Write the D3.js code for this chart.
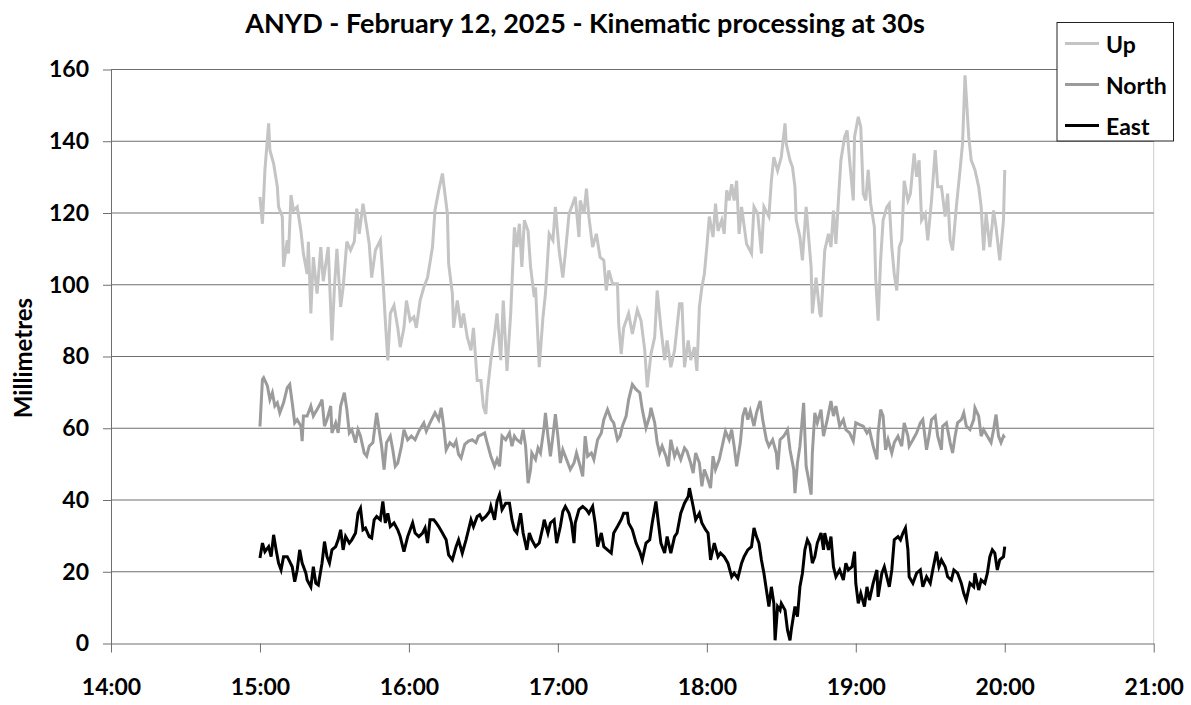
<!DOCTYPE html>
<html>
<head>
<meta charset="utf-8">
<script src="https://cdn.jsdelivr.net/npm/d3@7"></script>
<style>
  body { margin: 0; background: #fff; }
  svg { display: block; font-family: Lato, "Open Sans", sans-serif; font-weight: bold; }
</style>
</head>
<body>
<svg width="1191" height="705"></svg>
<script>
// chart text
const title = 'ANYD - February 12, 2025 - Kinematic processing at 30s';
const yLabel = 'Millimetres';
const seriesNames = ['Up', 'North', 'East'];
const yTicks = [0, 20, 40, 60, 80, 100, 120, 140, 160];
const xTickHours = [14, 15, 16, 17, 18, 19, 20, 21];

// [minutes after 15:00, millimetres]
const upData = [
  [0,124.5],[1,117],[1.5,124.5],[2,132],[3.5,145],[4,137.5],[5.5,133.8],[7,127.3],[7.5,121.7],[9,119],
  [9.5,105],[11,112.4],[11.5,108.7],[12.5,125],[13.5,120.7],[15,121.7],[16.5,115],[17.5,108.7],[19,103],[19.5,112],
  [20.5,92],[21.5,107.7],[23,97.5],[24.5,110.5],[25.5,101],[27.5,110.5],[29,84.5],[30,99.3],[31,110],[32.5,93.8],
  [33.5,99.3],[35,112],[36.5,109.6],[38,112],[39,121.2],[40,114.2],[41.5,122.6],[43,116],[44,111.4],[45,102],
  [46.5,109.6],[48.5,112.4],[49.5,102],[50.5,90],[51.5,78.9],[52.5,92],[54,94.2],[55.5,88],[56.5,82.6],[58,88],
  [59,95.6],[60.5,90],[62,91],[63,88],[64.5,95.6],[66,99.3],[67.5,102],[69.5,110.5],[70.5,120.7],[72,126.3],
  [73.5,131],[75.5,119.8],[76,105.9],[77.5,97.5],[78,88],[79.5,95.6],[81,88],[82,92],[83.5,85.4],[85,81.7],
  [86,88],[87.5,73.3],[89,73.3],[90,66],[91,64],[91.5,69.6],[93,79],[94.5,86.3],[95.5,92],[97,79],
  [98,95.6],[99.5,76],[101,92],[102.5,116],[103.5,110.5],[104.5,117],[105.5,105],[106.5,118],[108,115],[109,105],
  [110.5,96.6],[111,99.3],[112.5,77],[114,91],[115,97.5],[116.5,114.2],[118,112.4],[119,121.7],[120.5,109.6],[122,102],
  [123,108.7],[124.5,119.8],[126,122.6],[127,124.5],[128.5,113.3],[129,123.5],[130.5,119.8],[131.5,126.8],[132.5,118.9],[134,110.5],
  [135.5,114.2],[137,107.7],[138.5,106.8],[139.5,98.4],[140.5,104],[142,100.3],[144,100.3],[144.5,89.1],[145.5,80.7],[146.5,88],
  [148.5,92],[150,86.3],[152,93],[153.5,90],[155,81.7],[156,71.4],[157.5,80.7],[159,85.4],[160,98.4],[161.5,88],
  [163,79],[164,84.5],[165.5,77],[167,81.7],[169,94.7],[170,94.7],[171,77],[172.5,84.5],[173.5,79],[175,82.6],
  [176,76],[177,93.8],[178,99.3],[179,103],[180,110.5],[181,119],[182.5,113.3],[183.5,122.6],[184.5,115],[186,118],
  [187,114.2],[188,126.3],[189,123.5],[190,128],[191,123.5],[192,129],[193,114.2],[194,121.7],[196,111.4],[198,108.7],
  [199,121.7],[200.5,119.8],[202,108.7],[203,121.7],[205,119],[206,129],[207,135.6],[208.5,131.8],[210,135.6],[211.5,145],
  [212,139.3],[213.5,134.7],[214.5,132.8],[215.5,127.3],[216,118],[217.5,113.3],[218.5,106.8],[220,121.7],[221,113.3],[222,105],
  [222.5,92],[224,102],[225.5,92],[226,91],[227.5,109.6],[229,114.2],[230,110.5],[231,120.7],[232,111.4],[233,123.5],
  [234,134.7],[235.5,141.2],[236.5,143],[237.5,134.7],[239,123.5],[239.5,141.2],[241,146.8],[242,144],[243,125.4],[244,123.5],
  [245,132],[246,122.6],[247.5,116],[248,102],[249,90],[250,106.8],[251,118],[252.5,121.7],[253.5,122.6],[254.5,110.5],
  [255.5,103],[256.5,98.4],[257.5,110.5],[258.5,112.4],[259.5,129],[261,123.5],[262,125.4],[263.5,136.6],[264.5,130.1],[265.5,134.7],
  [266.5,118],[268,119.8],[269,112.4],[270.5,123.5],[272,137.5],[273,127.3],[274.5,127.3],[276,119],[277,125.4],[278,112.4],
  [279,109.6],[280.5,121.7],[282,132],[283,139.3],[284,158.4],[285.5,141.2],[286.5,134.7],[288,132],[289.5,127.3],[290.5,121.7],
  [291.5,109.6],[292.5,119.8],[294,110.5],[295.5,120.7],[296.5,116],[298,106.8],[299.5,118],[300,132]
];

const northData = [
  [0,60.5],[1,73.6],[1.5,74.1],[3,71.8],[4,68],[5,69.9],[6,66.2],[7,67.1],[8,64.3],[9.5,67.1],
  [11,71.3],[12,72.2],[13,67.1],[14,61.5],[15,62.4],[16.5,60.6],[17,56.4],[17.5,63.4],[19,63.4],[20.5,66.2],
  [21.5,63.4],[23,65.2],[24.5,67.1],[25,68],[26,60.6],[27,62.4],[28.5,66.2],[29,58.7],[30.5,61.5],[31.5,58.7],
  [32.5,66.2],[34,69.9],[35,65.2],[36,58.7],[37,59.6],[38.5,56],[39.5,59.6],[40.5,57.8],[42,53.1],[43,52.2],
  [44,55],[45.5,56],[47,64.3],[48,59.6],[49,55],[50,48.5],[51,56],[52.5,57.8],[53.5,54],[54.5,49.4],
  [55.5,50.3],[57,55],[58,59.6],[59.5,56.8],[61,57.8],[62.5,56.8],[64,59.2],[66,61.5],[67,59.2],[68.5,61.5],
  [70.5,64.3],[72,62.4],[73,65.7],[74,60.6],[75,54],[76.5,56],[78,55],[79,56.4],[80,52.7],[81,51.7],
  [82.5,55.5],[84,56.4],[85.5,56.8],[87,56],[88,57.8],[89.5,58.3],[90.5,58.7],[91.5,56],[93,52.2],[94.5,49.4],
  [95.5,51.3],[96.5,49.4],[97.5,57.8],[99,56.8],[100.5,58.7],[101.5,55],[102.5,57.8],[103.5,56.8],[105,56],[106,59.6],
  [107,55],[108,44.7],[109,48.5],[109.5,53.1],[111,51.3],[112,54.5],[113,53.1],[114.5,60.6],[115,64.3],[116,57.8],
  [117,52.2],[118,57.8],[119,63.9],[120,57.8],[121,50.3],[122,54],[123.5,51.3],[125,48.5],[126.5,50.3],[127.5,53.1],
  [129,49.4],[130,46.6],[131,57.8],[132,52.2],[133.5,53.1],[134.5,51.3],[136,56.8],[137.5,58.7],[138.5,62.4],[140,65.2],
  [141.5,62.4],[142.5,61.5],[144,56.8],[145,57.8],[146,60.6],[147.5,63.4],[148.5,68],[150,72.2],[151.5,70.8],[153,69.9],
  [154,65.2],[155.5,60.1],[157,63.4],[157.5,65.7],[159,61.5],[160,56],[161,53.1],[162,55],[163.5,52.2],[164.5,49.4],
  [165.5,56.8],[167,52.2],[168,54],[169.5,51.3],[171,54.5],[172,53.6],[173.5,50.3],[174.5,47.5],[175.5,53.1],[177,50.3],
  [178,43.8],[179,48.5],[180,46.6],[181.5,43.3],[182.5,52.2],[183.5,48.5],[185,51.3],[186.5,56],[187.5,59.2],[189,56.8],
  [190,59.6],[191,55],[192,49.4],[193.5,56],[194.5,63.4],[195.5,65.7],[196.5,62.4],[197.5,64.8],[199,60.6],[200,64.3],
  [201.5,67.6],[202.5,62.4],[204,56.8],[205,55],[206.5,56.8],[208,53.1],[208.5,48.5],[209.5,56.8],[211,57.8],[212.5,59.6],
  [213.5,54],[215,48.5],[215.5,41.9],[216.5,50.3],[217.5,55],[219,67.1],[220,49.4],[221,45.7],[222,41.5],[222.5,53.1],
  [223.5,64.3],[224.5,61.5],[226,65.2],[227,57.8],[228.5,62.4],[230,67.6],[231,63.4],[232,66.2],[233.5,60.6],[235,62.4],
  [236,59.6],[237.5,58.7],[239,56.4],[240,61.5],[241.5,61],[243,60.6],[244.5,58.7],[245.5,59.6],[247,55],[248.5,51.3],
  [249,58.7],[250,65.2],[251,63.4],[252,54],[253,56.8],[254.5,53.1],[255.5,56],[257,57.8],[258.5,55],[259.5,61.5],
  [261,57.8],[261.5,55],[263,56.8],[264.5,58.7],[266,61.5],[267,62.4],[268.5,54],[269.5,57.8],[270.5,62.4],[272,63.4],
  [273,57.8],[274.5,54],[275,60.6],[276.5,61.5],[278,56],[279,53.1],[280,57.8],[281,61.5],[282.5,62.4],[283.5,64.3],
  [284.5,60.6],[286,59.6],[287.5,62.4],[288,65.7],[289.5,63.4],[290.5,57.8],[291.5,59.6],[293,57.8],[294.5,56],[295.5,59.6],
  [296.5,63.8],[297.5,57.8],[298.5,56],[299.5,57.8],[300,57.3]
];

const eastData = [
  [0,23.8],[1,28],[2,25.6],[3.5,27],[4.5,24.2],[5.5,30.3],[6.5,26.1],[7.5,22.4],[8.5,20.5],[9.5,24.2],
  [11,24.2],[12,22.8],[13,21.4],[14,17.2],[15,20.5],[16,26.1],[17,22.4],[18.5,19.6],[19,17.7],[20.5,15.8],
  [21.5,21.4],[22.5,16.8],[23.5,16.3],[25,22.4],[26,28.4],[27,24.2],[28,22.4],[29,26.1],[30.5,27],[31.5,28.9],
  [32.5,31.7],[33.5,26.1],[34.5,29.8],[36,28],[37,28.9],[38.5,30.8],[39.5,36.3],[40.5,37.7],[41.5,31.7],[42.5,32.2],
  [44,29.8],[45,29.4],[46,34.5],[47,35.4],[48.5,34.5],[49.5,39.6],[50.5,33.6],[51.5,36.3],[52.5,32.6],[54,33.6],
  [55.5,31.7],[56.5,29.8],[58,25.6],[59.5,29.8],[60.5,31.7],[61.5,33.6],[62.5,30.8],[64,29.8],[65.5,30.8],[66.5,32.2],
  [67.5,28],[68.5,34.5],[70,34.5],[71,33.6],[72,32.6],[73.5,30.8],[75,28.9],[76,24.7],[77.5,23.3],[79,27],
  [80,28.9],[81.5,25.2],[83,28.9],[84,31.7],[85,34.5],[86,32.6],[87.5,35.4],[88.5,35.9],[89.5,34.5],[91,35.4],
  [92.5,36.8],[93,38.2],[94.5,34.5],[95.5,39.6],[96.5,41.5],[97.5,37.3],[99,39.1],[100.5,39.1],[101.5,34.5],[102.5,31.7],
  [103.5,30.8],[105,36.3],[106,30.8],[107.5,26.1],[108.5,30.8],[109.5,28.9],[111,27],[112.5,28],[114,32.6],[114.5,34.5],
  [116,30.8],[117,33.6],[118.5,34.5],[119.5,28],[121,32.6],[122,36.8],[123,38.2],[124.5,36.3],[125.5,33.6],[126.5,28],
  [127,33.6],[128.5,37.3],[130,38.2],[131.5,37.3],[132.5,36.3],[134,38.2],[135,33.6],[136,27],[137.5,30.8],[138.5,27],
  [140,26.1],[141.5,25.2],[142.5,30.8],[144,32.6],[145.5,34.5],[146.5,36.3],[148,36.3],[148.5,33.6],[150,31.7],[151.5,28],
  [153,25.6],[154,23.3],[155.5,28],[157,28.9],[158,33.6],[159.5,39.6],[160.5,33.6],[161.5,28],[163,25.2],[164,29.8],
  [165.5,25.2],[167,29.8],[168,30.8],[169.5,36.3],[171,39.1],[172.5,41],[173,43.3],[174.5,38.2],[175.5,34.5],[177,36.3],
  [178,33.6],[179.5,31.7],[180.5,30.8],[181.5,23.3],[183,28],[184.5,24.2],[185.5,25.2],[187,24.2],[188.5,22.4],[190,18.6],
  [191,19.6],[192.5,18.2],[194,22.4],[195,24.2],[196.5,26.1],[198,27],[199,32.2],[200,29.8],[201,28],[202,23.3],
  [203,19.6],[204,14.9],[205,10.3],[206,15.8],[207,11.2],[207.5,0.9],[208.5,10.3],[209.5,9.3],[210,11.2],[211.5,9.3],
  [212.5,3.7],[213.5,0.9],[214,3.7],[215.5,10.3],[216.5,7.5],[217.5,15.8],[218.5,19.6],[219.5,26.1],[220.5,28.9],[221.5,27.5],
  [222.5,22.4],[223.5,24.2],[224.5,28],[226,30.8],[227,26.1],[227.5,30.8],[229,26.1],[230,29.8],[231,21.4],[232,18.6],
  [233.5,20.5],[235,17.7],[236,22.4],[237,20.5],[238.5,21.4],[239.5,25.6],[240,16.8],[241,11.2],[242,14],[243.5,10.3],
  [244.5,15.8],[245.5,12.1],[247,16.8],[248.5,20.5],[249,13],[250.5,19.6],[251.5,21.4],[252.5,18.6],[253.5,15.8],[254.5,20.5],
  [255.5,28.9],[257,29.8],[258,28.9],[259,30.8],[260,32.2],[261,26.1],[261.5,18.6],[263,16.8],[264.5,19.6],[266,20.5],
  [267,15.8],[268.5,18.6],[270,16.8],[271,20.5],[272.5,25.6],[273.5,21.4],[274.5,23.3],[276,21.4],[277,18.6],[278.5,17.7],
  [279.5,20.5],[281,19.6],[282.5,16.8],[283.5,14],[284.5,12.1],[286,16.8],[287.5,15.8],[288,19.6],[289.5,14.9],[290.5,17.7],
  [292,16.8],[293,19.6],[294,24.2],[295,26.1],[296,25.2],[297,20.5],[298,23.3],[299.5,24.2],[300,27]
];

const seriesData = [upData, northData, eastData];
const seriesColors = ['#c4c4c4', '#9b9b9b', '#000000'];

const svg = d3.select('svg'),
      margin = {top: 69.5, right: 37.3, bottom: 61.5, left: 111},
      width = +svg.attr('width') - margin.left - margin.right,
      height = +svg.attr('height') - margin.top - margin.bottom;

const day = new Date(2025, 1, 12);
const atHour = h => new Date(day.getTime() + h * 3600e3);
const atMin = m => new Date(day.getTime() + 15 * 3600e3 + m * 60e3);

const x = d3.scaleTime().domain([atHour(14), atHour(21)]).range([0, width]);
const y = d3.scaleLinear().domain([0, 160]).range([height, 0]);

const g = svg.append('g').attr('transform', 'translate(' + margin.left + ',' + margin.top + ')');

// right plot border (light)
g.append('line')
  .attr('x1', width).attr('x2', width).attr('y1', 0).attr('y2', height)
  .attr('stroke', '#cccccc').attr('stroke-width', 1);

// horizontal gridlines
g.append('g').selectAll('line')
  .data(yTicks.filter(d => d > 0))
  .enter().append('line')
    .attr('x1', 0).attr('x2', width)
    .attr('y1', d => y(d)).attr('y2', d => y(d))
    .attr('stroke', '#6f6f6f').attr('stroke-width', 1);

// y axis
const yAxis = g.append('g')
  .call(d3.axisLeft(y).tickValues(yTicks).tickSize(8).tickPadding(14).tickSizeOuter(0));
yAxis.selectAll('path, line').attr('stroke', '#6f6f6f');
yAxis.selectAll('text').attr('font-size', 23).attr('font-family', 'Lato, "Open Sans", sans-serif').attr('font-weight', 'bold').attr('fill', '#000');

// x axis
const xAxis = g.append('g')
  .attr('transform', 'translate(0,' + height + ')')
  .call(d3.axisBottom(x).tickValues(xTickHours.map(atHour)).tickFormat(d3.timeFormat('%H:%M')).tickSize(9).tickPadding(26).tickSizeOuter(0));
xAxis.selectAll('path, line').attr('stroke', '#6f6f6f');
xAxis.selectAll('text').attr('font-size', 23).attr('font-family', 'Lato, "Open Sans", sans-serif').attr('font-weight', 'bold').attr('fill', '#000');

// series lines, Up drawn first so East sits on top
const line = d3.line()
  .x(d => x(atMin(d[0])))
  .y(d => y(d[1]));

seriesData.forEach((data, i) => {
  g.append('path')
    .datum(data)
    .attr('fill', 'none')
    .attr('stroke', seriesColors[i])
    .attr('stroke-width', 3)
    .attr('stroke-linejoin', 'miter')
    .attr('d', line);
});

// title
svg.append('text')
  .attr('x', 585).attr('y', 33)
  .attr('text-anchor', 'middle')
  .attr('font-size', 27)
  .text(title);

// y label
svg.append('text')
  .attr('transform', 'translate(22,358) rotate(-90)')
  .attr('text-anchor', 'middle')
  .attr('dominant-baseline', 'central')
  .attr('font-size', 24)
  .text(yLabel);

// legend
const legend = svg.append('g').attr('transform', 'translate(1057,22.5)');
legend.append('rect')
  .attr('width', 116.5).attr('height', 118.5)
  .attr('fill', '#fff').attr('stroke', '#222').attr('stroke-width', 1);
const item = legend.selectAll('.item')
  .data(seriesNames)
  .enter().append('g')
    .attr('class', 'item')
    .attr('transform', (d, i) => 'translate(0,' + (21 + i * 41) + ')');
item.append('line')
  .attr('x1', 8).attr('x2', 42).attr('y1', 0).attr('y2', 0)
  .attr('stroke', (d, i) => seriesColors[i]).attr('stroke-width', 3);
item.append('text')
  .attr('x', 49)
  .attr('dominant-baseline', 'central')
  .attr('font-size', 23)
  .text(d => d);
</script>
</body>
</html>
